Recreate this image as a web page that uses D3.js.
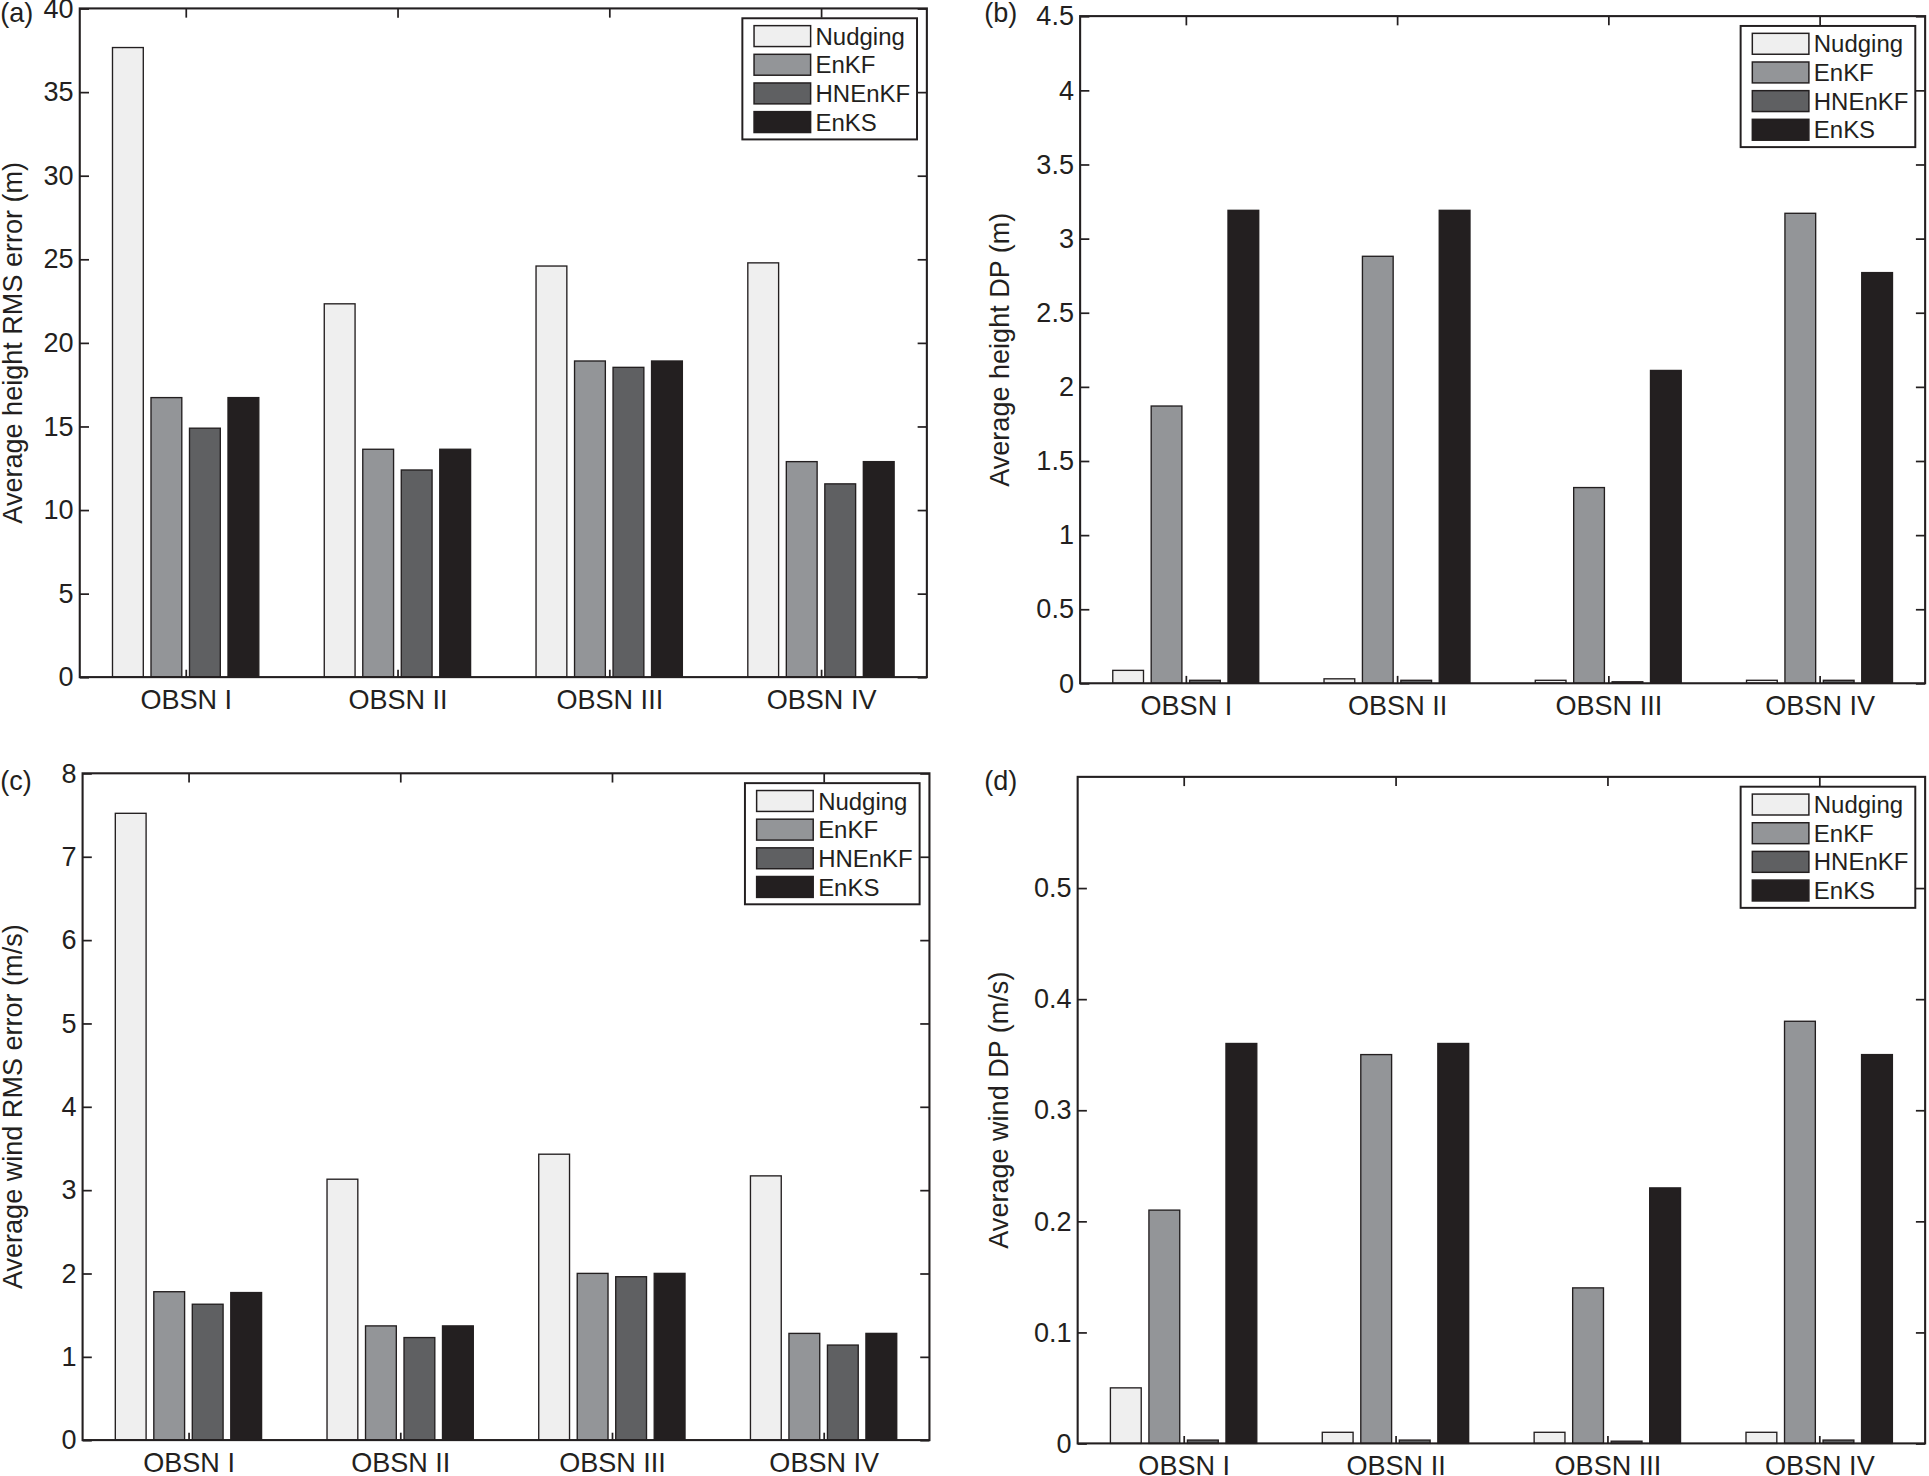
<!DOCTYPE html>
<html>
<head>
    <meta charset="utf-8">
    <title>Nudging / EnKF / HNEnKF / EnKS</title>
    <script src="https://d3js.org/d3.v7.min.js"></script>
    <style type="text/css">
        body { margin: 0; background: #fff; }
        text { font-family: "Liberation Sans", Arial, Helvetica, sans-serif; fill: #231f20; }
        .axis path { display: none; }
        .axis line { stroke: #231f20; stroke-width: 1.4; }
    </style>
</head>
<body>
<script type="text/javascript">
    // categories and series
    let categories = ["OBSN I", "OBSN II", "OBSN III", "OBSN IV"];
    let methods = ["Nudging", "EnKF", "HNEnKF", "EnKS"];
    let colors = ["#efefef", "#939598", "#5f6062", "#231f20"];

    // values per category: [Nudging, EnKF, HNEnKF, EnKS]
    let heightRms = [
        [37.66, 16.72, 14.89, 16.72],
        [22.33, 13.63, 12.39, 13.63],
        [24.59, 18.91, 18.53, 18.91],
        [24.78, 12.89, 11.56, 12.89]
    ];
    let heightDp = [
        [0.087, 1.87, 0.02, 3.19],
        [0.03, 2.88, 0.02, 3.19],
        [0.02, 1.32, 0.01, 2.11],
        [0.02, 3.17, 0.02, 2.77]
    ];
    let windRms = [
        [7.52, 1.78, 1.63, 1.77],
        [3.13, 1.37, 1.23, 1.37],
        [3.43, 2.00, 1.96, 2.00],
        [3.17, 1.28, 1.14, 1.28]
    ];
    let windDp = [
        [0.05, 0.21, 0.003, 0.36],
        [0.01, 0.35, 0.003, 0.36],
        [0.01, 0.14, 0.002, 0.23],
        [0.01, 0.38, 0.003, 0.35]
    ];

    // tick values
    let ticksA = [0, 5, 10, 15, 20, 25, 30, 35, 40];
    let ticksB = [0, 0.5, 1, 1.5, 2, 2.5, 3, 3.5, 4, 4.5];
    let ticksC = [0, 1, 2, 3, 4, 5, 6, 7, 8];
    let ticksD = [0, 0.1, 0.2, 0.3, 0.4, 0.5];

    let panels = [
        {tag: "(a)", data: heightRms, ymax: 40, ticks: ticksA, ylabel: "Average height RMS error (m)",
         box: [64.7, 6.85, 753.4, 550.5], tagPos: [0, 18], labelX: 18},
        {tag: "(b)", data: heightDp, ymax: 4.5, ticks: ticksB, ylabel: "Average height DP (m)",
         box: [878, 13.1, 1565, 555.5], tagPos: [800, 18], labelX: 820},
        {tag: "(c)", data: windRms, ymax: 8, ticks: ticksC, ylabel: "Average wind RMS error (m/s)",
         box: [67, 628.7, 755.5, 1170.8], tagPos: [0, 642], labelX: 18},
        {tag: "(d)", data: windDp, ymax: 0.6, ticks: ticksD, ylabel: "Average wind DP (m/s)",
         box: [876, 631.6, 1565, 1173.5], tagPos: [800, 642], labelX: 819}
    ];

    let svg = d3.select("body").append("svg")
        .attr("width", 1929)
        .attr("height", 1476)
        .attr("viewBox", "0 0 1568 1200");

    // matlab grouped bar geometry
    let groupWidth = Math.min(0.8, methods.length / (methods.length + 1.5));
    let pitch = groupWidth / methods.length;
    let barW = pitch * 0.8;

    panels.forEach(p => {
        let [L, T, R, B] = p.box;
        let x = d3.scaleLinear().domain([0.5, categories.length + 0.5]).range([L, R]);
        let y = d3.scaleLinear().domain([0, p.ymax]).range([B, T]);
        let g = svg.append("g");

        // bars
        categories.forEach((c, i) => {
            g.selectAll(null)
                .data(p.data[i])
                .enter().append("rect")
                .attr("x", (d, j) => x(i + 1 + (j - (methods.length - 1) / 2) * pitch - barW / 2))
                .attr("width", x(barW) - x(0))
                .attr("y", d => y(d))
                .attr("height", d => y(0) - y(d))
                .attr("fill", (d, j) => colors[j])
                .attr("stroke", "#231f20")
                .attr("stroke-width", 1.1);
        });

        // axes, ticks pointing inward
        let xt = d3.range(1, categories.length + 1);
        g.append("g").attr("class", "axis")
            .attr("transform", `translate(0,${B})`)
            .call(d3.axisBottom(x).tickValues(xt).tickFormat(d => categories[d - 1])
                .tickSizeInner(-6).tickSizeOuter(0).tickPadding(10))
            .selectAll("text").attr("font-size", 22).attr("font-family", null);
        g.append("g").attr("class", "axis")
            .attr("transform", `translate(0,${T})`)
            .call(d3.axisTop(x).tickValues(xt).tickFormat("").tickSizeInner(-7.5).tickSizeOuter(0));
        g.append("g").attr("class", "axis")
            .attr("transform", `translate(${L},0)`)
            .call(d3.axisLeft(y).tickValues(p.ticks).tickFormat(d => String(d))
                .tickSizeInner(-7.5).tickSizeOuter(0).tickPadding(5))
            .selectAll("text").attr("font-size", 22).attr("font-family", null);
        g.append("g").attr("class", "axis")
            .attr("transform", `translate(${R},0)`)
            .call(d3.axisRight(y).tickValues(p.ticks).tickFormat("").tickSizeInner(-7.5).tickSizeOuter(0));
        g.selectAll(".axis").attr("font-family", null).attr("font-size", null);

        g.append("rect")
            .attr("x", L).attr("y", T)
            .attr("width", R - L).attr("height", B - T)
            .attr("fill", "none").attr("stroke", "#231f20").attr("stroke-width", 1.7);

        // labels
        g.append("text")
            .attr("transform", `translate(${p.labelX},${(T + B) / 2}) rotate(-90)`)
            .attr("text-anchor", "middle")
            .attr("font-size", 22)
            .text(p.ylabel);
        g.append("text")
            .attr("x", p.tagPos[0]).attr("y", p.tagPos[1])
            .attr("font-size", 22)
            .text(p.tag);

        // legend
        let lw = 142, lh = 98.5;
        let lx = R - 8 - lw, ly = T + 8;
        let leg = g.append("g").attr("transform", `translate(${lx},${ly})`);
        leg.append("rect")
            .attr("width", lw).attr("height", lh)
            .attr("fill", "#fff").attr("stroke", "#231f20").attr("stroke-width", 1.6);
        let rows = leg.selectAll("g.row")
            .data(methods)
            .enter().append("g")
            .attr("class", "row")
            .attr("transform", (d, j) => `translate(9.5,${6 + j * 23.3})`);
        rows.append("rect")
            .attr("width", 46).attr("height", 17)
            .attr("fill", (d, j) => colors[j])
            .attr("stroke", "#231f20").attr("stroke-width", 1.2);
        rows.append("text")
            .attr("x", 50).attr("y", 8.5)
            .attr("dy", "0.36em")
            .attr("font-size", 19.5)
            .text(d => d);
    });
</script>
</body>
</html>
